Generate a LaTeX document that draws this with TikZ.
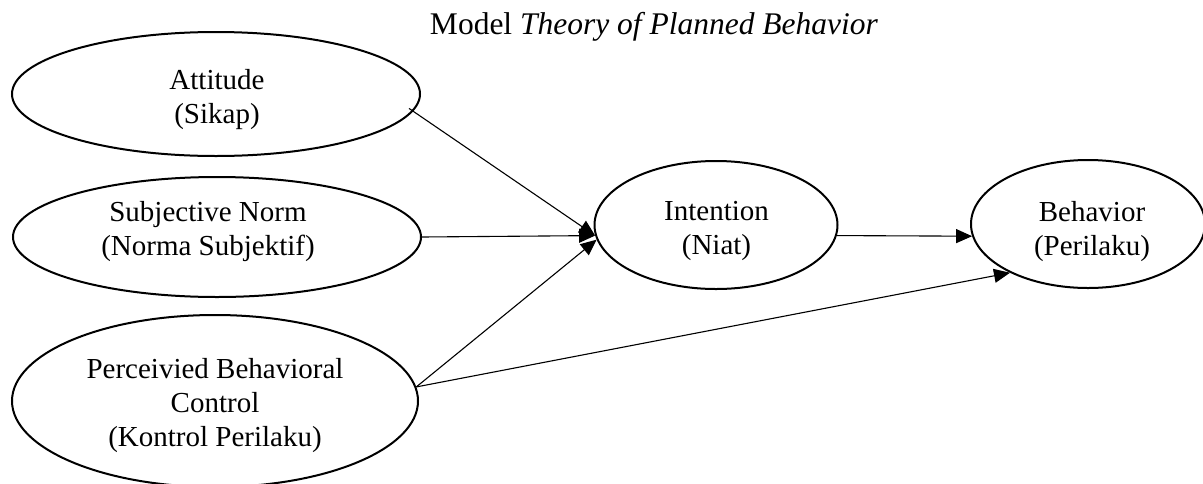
\documentclass[tikz,border=0pt]{standalone}
\usepackage{fontspec}
\setmainfont{Liberation Serif}
\usetikzlibrary{shapes.geometric,arrows.meta}
\tikzset{
  construct/.style={draw, shape=ellipse, line width=2pt, inner sep=0pt},
  lbl/.style={align=center, inner sep=0pt, font=\fontsize{29}{34}\selectfont},
  link/.style={line width=1.1pt, -{Triangle[length=16pt,width=14pt]}},
}
\begin{document}
\begin{tikzpicture}[x=1pt,y=-1pt]
  \clip (0,0) rectangle (1203,483);
  \fill[white] (0,0) rectangle (1203,483);

  % heading
  \node[anchor=base, inner sep=0pt, font=\fontsize{31.5}{36}\selectfont] (title) at (654,34)
    {Model \textit{Theory of Planned Behavior}};

  % constructs
  \node[construct, minimum width=408pt, minimum height=124pt] (att) at (216,94) {};
  \node[construct, minimum width=408pt, minimum height=120pt] (sub) at (217,237) {};
  \node[construct, minimum width=406pt, minimum height=172pt] (pbc) at (215,401) {};
  \node[construct, minimum width=243pt, minimum height=128pt] (int) at (716,225) {};
  \node[construct, minimum width=234pt, minimum height=128pt] (beh) at (1088,224) {};

  % labels
  \node[lbl] (attT) at (217,99.5) {Attitude\\(Sikap)};
  \node[lbl] (subT) at (208,231.5) {Subjective Norm\\(Norma Subjektif)};
  \node[lbl] (pbcT) at (215,406) {Perceivied Behavioral\\Control\\(Kontrol Perilaku)};
  \node[lbl] (intT) at (716.5,231) {Intention\\(Niat)};
  \node[lbl] (behT) at (1092,232) {Behavior\\(Perilaku)};

  % paths
  \draw[link, shorten <=-5pt] (att.-5) -- (int.185);
  \draw[link] (sub.east) -- (int.185);
  \draw[link] (pbc.4) -- (int.187);
  \draw[link] (int.-5) -- (beh.186);
  \draw[link] (pbc.4) -- (beh.212);
\end{tikzpicture}
\end{document}
